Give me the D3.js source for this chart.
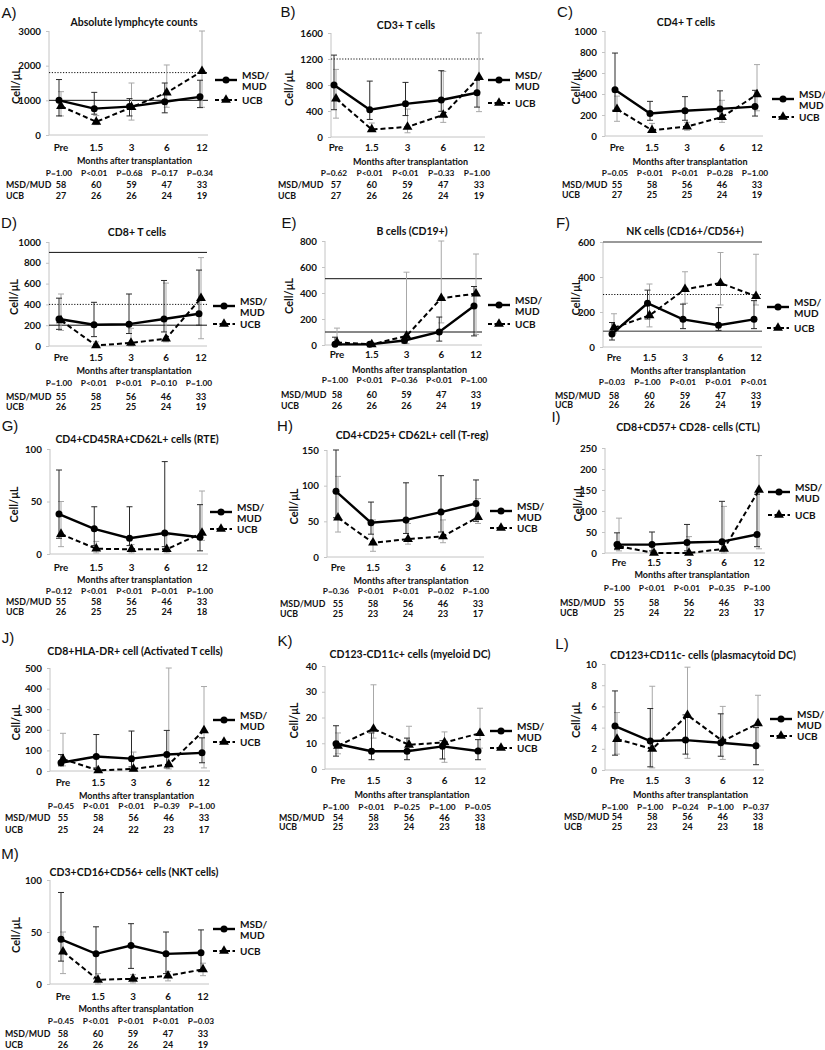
<!DOCTYPE html>
<html><head><meta charset="utf-8">
<script src="https://cdn.jsdelivr.net/npm/d3@7"></script>
<style>
body{margin:0;background:#fff}
svg{display:block}
text{font-family:Lato,'Open Sans',sans-serif;font-weight:bold;fill:#111}
.lbl{font-family:'Liberation Sans',Arial,sans-serif;font-weight:normal}
</style>
</head><body>
<svg id="c" width="825" height="1050"></svg>
<script>
const months = ["Pre", "1.5", "3", "6", "12"];
const letters = ["A","B","C","D","E","F","G","H","I","J","K","L","M"];
const titles = [
  "Absolute lymphcyte counts", "CD3+ T cells", "CD4+ T cells",
  "CD8+ T cells", "B cells (CD19+)", "NK cells (CD16+/CD56+)",
  "CD4+CD45RA+CD62L+ cells (RTE)", "CD4+CD25+ CD62L+ cell  (T-reg)", "CD8+CD57+ CD28- cells (CTL)",
  "CD8+HLA-DR+ cell  (Activated T cells)", "CD123-CD11c+ cells (myeloid DC)", "CD123+CD11c- cells (plasmacytoid DC)",
  "CD3+CD16+CD56+ cells (NKT cells)"
];
const yTicks = [
  [0,1000,2000,3000], [0,400,800,1200,1600], [0,200,400,600,800,1000],
  [0,200,400,600,800,1000], [0,200,400,600,800], [0,200,400,600],
  [0,50,100], [0,50,100,150], [0,50,100,150,200,250],
  [0,100,200,300,400,500], [0,10,20,30,40], [0,2,4,6,8,10],
  [0,50,100]
];
// reference lines: [value, style]
const refLines = [
  [[1000,"solid"],[1800,"dotted"]], [[1200,"dotted"]], [],
  [[900,"solid"],[400,"dotted"],[200,"solid"]], [[510,"solid"],[100,"solid"]], [[600,"gray"],[300,"dotted"],[90,"gray"]],
  [], [], [], [], [], [], []
];
const msdMedian = [
  [1000,760,820,960,1100], [800,420,510,570,680], [440,215,240,258,280],
  [260,205,210,260,310], [5,5,35,100,300], [75,250,158,124,158],
  [38,24,15,20,16], [92,48,52,63,75], [20,20,25,27,44],
  [40,70,60,80,88], [9.8,6.9,6.9,8.8,7], [4.14,2.73,2.82,2.57,2.29],
  [43,29,37,29,30]
];
const msdLow = [
  [550,600,550,640,790], [420,270,330,395,460], [245,150,150,170,190],
  [160,90,120,135,200], [0,0,15,30,70], [40,160,105,95,105],
  [15,8,8,7,3], [55,32,33,35,50], [8,5,5,5,15],
  [25,15,20,15,40], [5,3.6,3.6,3.9,3.6], [1.4,0.3,1.5,1.3,0.5],
  [22,5,15,10,12]
];
const msdHigh = [
  [1600,1230,1050,1500,1580], [1260,860,840,1020,870], [790,330,375,430,435],
  [460,420,500,630,730], [60,15,60,215,450], [140,325,245,225,265],
  [80,45,45,88,47], [150,77,104,114,108], [48,50,68,123,140],
  [80,177,194,197,161], [16.8,14,12,11,11.4], [7.46,5.8,5.2,5.3,4.0],
  [88,55,58,50,52]
];
const ucbMedian = [
  [830,380,800,1220,1840], [590,115,155,340,920], [255,55,90,180,395],
  [245,5,30,70,460], [20,5,70,360,395], [110,180,330,365,290],
  [19,5,4.5,4.5,20], [55,20,25,29,56], [16,0,0,10,150],
  [57,3,10,32,197], [9,15.6,9.4,10.3,13.9], [2.92,1.98,5.17,2.73,4.39],
  [31,4,5,8,14]
];
const ucbLow = [
  [550,300,430,800,800], [290,90,65,225,390], [140,35,55,130,240],
  [150,0,0,40,70], [0,0,10,170,80], [80,115,250,240,240],
  [7,1,1,1,13], [35,8,18,20,47], [5,0,0,0,10],
  [25,0,0,10,15], [5.9,12,7.5,2.6,8.1], [1.5,0.2,1.1,1.0,2.26],
  [10,0,1,3,8]
];
const ucbHigh = [
  [1250,560,1500,2020,3000], [1040,215,430,1010,1600], [380,120,130,340,680],
  [500,40,170,605,850], [130,15,560,800,700], [190,360,430,540,530],
  [50,12,9,18,60], [113,52,47,52,82], [83,5,39,111,232],
  [183,10,92,500,410], [14,32.7,16.6,14.4,23.6], [5.42,7.9,9.7,6.0,7.05],
  [50,10,9,12,20]
];
const pValues = [
  ["P=1.00","P<0.01","P=0.68","P=0.17","P=0.34"],
  ["P=0.62","P<0.01","P<0.01","P=0.33","P=1.00"],
  ["P=0.05","P<0.01","P<0.01","P=0.28","P=1.00"],
  ["P=1.00","P<0.01","P<0.01","P=0.10","P=1.00"],
  ["P=1.00","P<0.01","P=0.36","P<0.01","P=1.00"],
  ["P=0.03","P=1.00","P<0.01","P<0.01","P<0.01"],
  ["P=0.12","P<0.01","P<0.01","P=0.01","P=1.00"],
  ["P=0.36","P<0.01","P<0.01","P=0.02","P=1.00"],
  ["P=1.00","P<0.01","P<0.01","P=0.35","P=1.00"],
  ["P=0.45","P<0.01","P<0.01","P=0.39","P=1.00"],
  ["P=1.00","P<0.01","P=0.25","P=1.00","P=0.05"],
  ["P=1.00","P=1.00","P=0.24","P=1.00","P=0.37"],
  ["P=0.45","P<0.01","P<0.01","P<0.01","P=0.03"]
];
const nMSD = [
  [58,60,59,47,33],[57,60,59,47,33],[55,58,56,46,33],
  [55,58,56,46,33],[58,60,59,47,33],[58,60,59,47,33],
  [55,58,56,46,33],[55,58,56,46,33],[55,58,56,46,33],
  [55,58,56,46,33],[54,58,56,46,33],[54,58,56,46,33],
  [58,60,59,47,33]
];
const nUCB = [
  [27,26,26,24,19],[27,26,26,24,19],[27,25,25,24,19],
  [26,25,25,24,19],[26,26,26,24,19],[26,26,26,24,19],
  [26,25,25,24,18],[25,23,24,23,17],[25,24,22,23,17],
  [25,24,22,23,17],[25,23,24,23,18],[25,23,24,23,18],
  [26,26,26,24,19]
];

// layout (positions only)
const layout = [
  {ax:49, top:31, bot:135, x0:59, x1:200, tx:134, ty:22, lx:9, ly:12, legX:215, msdY:80, ucbY:100, rows:[146.7,160,173,184,195], rlx:6, ylx:15},
  {ax:331, top:33, bot:137, x0:334, x1:477, tx:406, ty:25, lx:288, ly:11, legX:488, msdY:80, ucbY:103, rows:[146.7,161,173,184,195], rlx:278, ylx:288},
  {ax:605, top:31, bot:136, x0:615, x1:755, tx:686, ty:22, lx:565, ly:11, legX:772, msdY:99, ucbY:117, rows:[146.7,161.7,173,184,194], rlx:562, ylx:575},
  {ax:49, top:242, bot:346, x0:59, x1:199, tx:137, ty:232, lx:9, ly:222, legX:213, msdY:306, ucbY:324, rows:[356.7,370,383,396.7,406.7], rlx:6, ylx:13},
  {ax:325, top:241, bot:345, x0:335, x1:474, tx:412, ty:231, lx:289, ly:222, legX:488, msdY:305, ucbY:324, rows:[354.3,369.3,380,394,405], rlx:281, ylx:288},
  {ax:603, top:242, bot:347, x0:612, x1:754, tx:685, ty:231, lx:563, ly:222, legX:767, msdY:307, ucbY:328, rows:[357,370.7,381.7,395,404], rlx:555, ylx:575},
  {ax:50, top:449, bot:554, x0:59, x1:200, tx:137, ty:439, lx:10, ly:425, legX:210, msdY:512, ucbY:529, rows:[566.7,579,591,601.7,611], rlx:6, ylx:13},
  {ax:327, top:450, bot:557, x0:336, x1:476, tx:412, ty:435, lx:285, ly:425, legX:490, msdY:511, ucbY:528, rows:[566.7,580,591,603,613], rlx:280, ylx:293},
  {ax:605, top:448, bot:553, x0:617, x1:757, tx:688, ty:427, lx:556, ly:416, legX:768, msdY:492, ucbY:515, rows:[562,574,588,602,612], rlx:560, ylx:577},
  {ax:50, top:668, bot:771, x0:61, x1:202, tx:135, ty:651, lx:8, ly:637, legX:213, msdY:720, ucbY:742, rows:[781.7,795,806,817.7,829], rlx:5, ylx:15},
  {ax:325, top:666, bot:769, x0:336, x1:478, tx:410, ty:654, lx:285, ly:640, legX:490, msdY:731, ucbY:748, rows:[780,794,806.7,817,826.7], rlx:279, ylx:293},
  {ax:605, top:664, bot:770, x0:615, x1:756, tx:703, ty:655, lx:562, ly:643, legX:770, msdY:719, ucbY:736, rows:[780,794,806.7,816.7,826.7], rlx:564, ylx:575},
  {ax:50, top:880, bot:984, x0:61, x1:201, tx:134, ty:872, lx:10, ly:853, legX:213, msdY:929, ucbY:951, rows:[996,1008,1021,1033,1044], rlx:5, ylx:15}
];

const svg = d3.select("#c");
const tri = d3.symbol().type(d3.symbolTriangle).size(42);
const UCB_OFF = 2;

letters.forEach((L, i) => {
  const lay = layout[i];
  const g = svg.append("g");
  const ticks = yTicks[i];
  const yMax = ticks[ticks.length - 1];
  const x = d3.scalePoint().domain(months).range([lay.x0, lay.x1]);
  const y = d3.scaleLinear().domain([0, yMax]).range([lay.bot, lay.top]);
  const cy = v => y(Math.max(0, Math.min(yMax, v)));
  const xEnd = lay.x1 + 8;

  // axes
  g.append("line").attr("x1", lay.ax).attr("x2", lay.ax).attr("y1", lay.top).attr("y2", lay.bot)
    .attr("stroke", "#c4c4c4").attr("stroke-width", 1);
  g.append("line").attr("x1", lay.ax).attr("x2", xEnd).attr("y1", lay.bot).attr("y2", lay.bot)
    .attr("stroke", "#c4c4c4").attr("stroke-width", 1);
  const yAxis = d3.axisLeft(y).tickValues(ticks).tickSize(3).tickPadding(5).tickFormat(d3.format("d"));
  const ya = g.append("g").attr("transform", `translate(${lay.ax},0)`).call(yAxis);
  ya.select(".domain").remove();
  ya.selectAll(".tick line").attr("stroke", "#c4c4c4");
  ya.selectAll(".tick text").attr("font-size", 9.8).attr("font-family", "Lato,'Open Sans',sans-serif")
    .attr("font-weight", "900").attr("fill", "#111");

  // reference lines
  refLines[i].forEach(([v, st]) => {
    const ln = g.append("line").attr("x1", lay.ax).attr("x2", xEnd).attr("y1", y(v)).attr("y2", y(v));
    if (st === "solid") ln.attr("stroke", "#111").attr("stroke-width", 1);
    else if (st === "dotted") ln.attr("stroke", "#111").attr("stroke-width", 1).attr("stroke-dasharray", "1.2,1.6");
    else ln.attr("stroke", "#777").attr("stroke-width", 1.6);
  });

  // error bars
  function errBars(lo, hi, off, color) {
    months.forEach((m, k) => {
      const xx = x(m) + off;
      const y1 = cy(lo[k]), y2 = cy(hi[k]);
      g.append("line").attr("x1", xx).attr("x2", xx).attr("y1", y1).attr("y2", y2)
        .attr("stroke", color).attr("stroke-width", 1);
      [[lo[k], y1], [hi[k], y2]].forEach(([v, yy]) => {
        if (v >= 0 && v <= yMax) {
          g.append("line").attr("x1", xx - 3).attr("x2", xx + 3).attr("y1", yy).attr("y2", yy)
            .attr("stroke", color).attr("stroke-width", 1);
        }
      });
    });
  }
  errBars(ucbLow[i], ucbHigh[i], UCB_OFF, "#a8a8a8");
  errBars(msdLow[i], msdHigh[i], 0, "#2a2a2a");

  // lines
  const msdPts = months.map((m, k) => [x(m), y(msdMedian[i][k])]);
  const ucbPts = months.map((m, k) => [x(m) + UCB_OFF, y(ucbMedian[i][k])]);
  g.append("path").attr("d", d3.line()(ucbPts)).attr("fill", "none").attr("stroke", "#000")
    .attr("stroke-width", 2).attr("stroke-dasharray", "5,3");
  g.append("path").attr("d", d3.line()(msdPts)).attr("fill", "none").attr("stroke", "#000")
    .attr("stroke-width", 2.4);
  msdPts.forEach(p => g.append("circle").attr("cx", p[0]).attr("cy", p[1]).attr("r", 3.5).attr("fill", "#000"));
  ucbPts.forEach(p => g.append("path").attr("d", tri).attr("transform", `translate(${p[0]},${p[1]})`).attr("fill", "#000"));

  // x tick labels
  months.forEach(m => g.append("text").attr("x", x(m) + 2).attr("y", lay.rows[0]).attr("text-anchor", "middle")
    .attr("dominant-baseline", "central").attr("font-size", 9.8).attr("font-weight", "900").text(m));
  g.append("text").attr("x", (lay.x0 + lay.x1) / 2 + 5).attr("y", lay.rows[1]).attr("text-anchor", "middle")
    .attr("dominant-baseline", "central").attr("font-size", 9).attr("font-weight", "900").text("Months after transplantation");
  months.forEach((m, k) => {
    g.append("text").attr("x", x(m)).attr("y", lay.rows[2]).attr("text-anchor", "middle")
      .attr("dominant-baseline", "central").attr("font-size", 8.3).text(pValues[i][k]);
    g.append("text").attr("x", x(m) + 2).attr("y", lay.rows[3]).attr("text-anchor", "middle")
      .attr("dominant-baseline", "central").attr("font-size", 9).text(nMSD[i][k]);
    g.append("text").attr("x", x(m) + 2).attr("y", lay.rows[4]).attr("text-anchor", "middle")
      .attr("dominant-baseline", "central").attr("font-size", 9).text(nUCB[i][k]);
  });
  g.append("text").attr("x", lay.rlx).attr("y", lay.rows[3]).attr("dominant-baseline", "central")
    .attr("font-size", 8.8).text("MSD/MUD");
  g.append("text").attr("x", lay.rlx).attr("y", lay.rows[4]).attr("dominant-baseline", "central")
    .attr("font-size", 8.8).text("UCB");

  // title, letter, y label
  g.append("text").attr("x", lay.tx).attr("y", lay.ty).attr("text-anchor", "middle")
    .attr("dominant-baseline", "central").attr("font-size", 10.5).attr("font-weight", "900").text(titles[i]);
  g.append("text").attr("class", "lbl").attr("x", lay.lx).attr("y", lay.ly).attr("text-anchor", "middle")
    .attr("dominant-baseline", "central").attr("font-size", 15).text(L + ")");
  g.append("text").attr("transform", `translate(${lay.ylx},${(lay.top + lay.bot) / 2 + 3}) rotate(-90)`)
    .attr("text-anchor", "middle").attr("dominant-baseline", "central").attr("font-size", 11)
    .attr("font-weight", "900").text("Cell/μL");

  // legend
  const lx0 = lay.legX, lx1 = lay.legX + 22, lxm = (lx0 + lx1) / 2;
  g.append("line").attr("x1", lx0).attr("x2", lx1).attr("y1", lay.msdY).attr("y2", lay.msdY)
    .attr("stroke", "#000").attr("stroke-width", 2.4);
  g.append("circle").attr("cx", lxm).attr("cy", lay.msdY).attr("r", 3.5).attr("fill", "#000");
  g.append("line").attr("x1", lx0).attr("x2", lx1).attr("y1", lay.ucbY).attr("y2", lay.ucbY)
    .attr("stroke", "#000").attr("stroke-width", 2).attr("stroke-dasharray", "4,2.5");
  g.append("path").attr("d", tri).attr("transform", `translate(${lxm},${lay.ucbY})`).attr("fill", "#000");
  g.append("text").attr("x", lx1 + 5).attr("y", lay.msdY - 5.5).attr("dominant-baseline", "central")
    .attr("font-size", 10).attr("font-weight", "900").text("MSD/");
  g.append("text").attr("x", lx1 + 5).attr("y", lay.msdY + 6).attr("dominant-baseline", "central")
    .attr("font-size", 10).attr("font-weight", "900").text("MUD");
  g.append("text").attr("x", lx1 + 5).attr("y", lay.ucbY).attr("dominant-baseline", "central")
    .attr("font-size", 10).attr("font-weight", "900").text("UCB");
});
</script>
</body></html>
